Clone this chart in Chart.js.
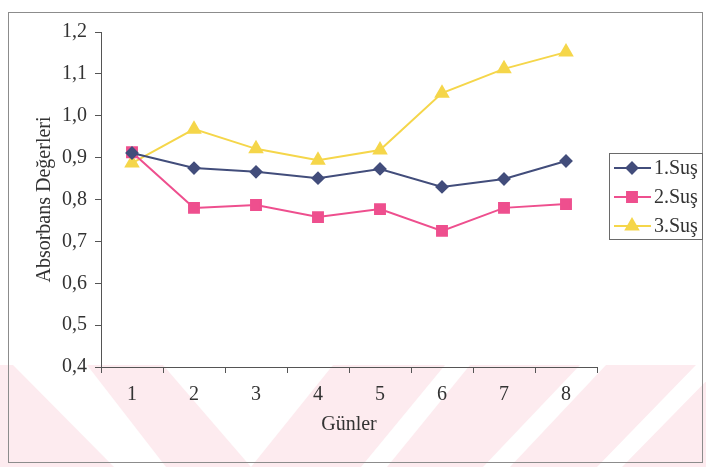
<!DOCTYPE html>
<html>
<head>
<meta charset="utf-8">
<script src="https://cdn.jsdelivr.net/npm/chart.js@4.4.1/dist/chart.umd.min.js"></script>
<style>
  html, body { margin: 0; padding: 0; background: #ffffff; }
  #wrap { width: 706px; height: 467px; position: relative; }
</style>
</head>
<body>
<div id="wrap"><canvas id="c" width="706" height="467"></canvas></div>
<script>
// Days on the x axis and absorbance readings for each strain
const days = ['1', '2', '3', '4', '5', '6', '7', '8'];
const sus1 = [0.911, 0.875, 0.866, 0.851, 0.873, 0.830, 0.849, 0.892];
const sus2 = [0.913, 0.780, 0.787, 0.758, 0.777, 0.725, 0.780, 0.789];
const sus3 = [0.887, 0.968, 0.921, 0.894, 0.918, 1.054, 1.112, 1.152];
const seriesNames = ['1.Suş', '2.Suş', '3.Suş'];
const yTicks = [0.4, 0.5, 0.6, 0.7, 0.8, 0.9, 1.0, 1.1, 1.2];

const SERIF = "'Liberation Serif', 'DejaVu Serif', serif";
const TEXT = '#333333';
const AXIS = '#555555';

// Page background: frame around the figure plus the pale striped band at the foot
const backdrop = {
  id: 'backdrop',
  beforeDraw(chart) {
    const ctx = chart.ctx;
    ctx.save();
    ctx.fillStyle = '#ffffff';
    ctx.fillRect(0, 0, chart.width, chart.height);
    // striped band
    ctx.fillStyle = '#fdebef';
    ctx.fillRect(0, 365, chart.width, chart.height - 365);
    ctx.fillStyle = '#ffffff';
    const gaps = [
      [[13, 365], [87, 365], [166, 467], [114, 467]],
      [[163, 365], [333, 365], [251, 467]],
      [[445, 365], [470, 365], [387, 467], [361, 467]],
      [[580, 365], [606, 365], [510, 467], [483, 467]],
      [[696, 365], [722, 365], [622, 467], [597, 467]]
    ];
    gaps.forEach(poly => {
      ctx.beginPath();
      poly.forEach(([x, y], i) => i ? ctx.lineTo(x, y) : ctx.moveTo(x, y));
      ctx.closePath();
      ctx.fill();
    });
    // outer frame
    ctx.strokeStyle = '#8c8c8c';
    ctx.lineWidth = 1;
    ctx.strokeRect(8.5, 12.5, 694, 450);
    ctx.restore();
  }
};

// Boxed legend at the right of the plot, built from the datasets
const boxedLegend = {
  id: 'boxedLegend',
  afterDraw(chart) {
    const ctx = chart.ctx;
    const left = 609, top = 153, w = 93, h = 86;
    ctx.save();
    ctx.fillStyle = '#ffffff';
    ctx.fillRect(left, top, w, h);
    ctx.strokeStyle = '#6a6a6a';
    ctx.lineWidth = 1;
    ctx.strokeRect(left + 0.5, top + 0.5, w, h);
    chart.data.datasets.forEach((ds, i) => {
      const y = 168 + i * 29;
      ctx.strokeStyle = ds.borderColor;
      ctx.lineWidth = 2;
      ctx.beginPath();
      ctx.moveTo(614, y);
      ctx.lineTo(651, y);
      ctx.stroke();
      ctx.fillStyle = ds.backgroundColor;
      Chart.helpers.drawPoint(ctx, {
        pointStyle: ds.pointStyle,
        radius: ds.pointRadius,
        rotation: 0,
        borderWidth: 1
      }, 632, y);
      ctx.fill();
      ctx.fillStyle = TEXT;
      ctx.font = '20px ' + SERIF;
      ctx.textAlign = 'left';
      ctx.textBaseline = 'middle';
      ctx.fillText(ds.label, 654, y + 1);
    });
    ctx.restore();
  }
};

const colors = ['#424d7b', '#ee4f8e', '#f5d64a'];
const styles = ['rectRot', 'rect', 'triangle'];
const radii = [5.5, 7, 7];
const values = [sus1, sus2, sus3];

new Chart(document.getElementById('c'), {
  type: 'line',
  data: {
    labels: days,
    datasets: values.map((v, i) => ({
      label: seriesNames[i],
      data: v,
      borderColor: colors[i],
      backgroundColor: colors[i],
      pointBackgroundColor: colors[i],
      pointBorderColor: colors[i],
      pointStyle: styles[i],
      pointRadius: radii[i],
      borderWidth: 2,
      tension: 0,
      fill: false
    }))
  },
  options: {
    responsive: false,
    devicePixelRatio: 1,
    animation: false,
    layout: { padding: { top: 32, right: 109, left: 0, bottom: 0 } },
    plugins: { legend: { display: false }, tooltip: { enabled: false } },
    scales: {
      x: {
        type: 'category',
        offset: true,
        grid: { display: true, offset: true, drawOnChartArea: false, drawTicks: true, tickLength: 6, color: AXIS },
        border: { display: true, color: AXIS, width: 1 },
        ticks: { color: TEXT, font: { family: SERIF, size: 20 }, padding: 10, maxRotation: 0 },
        title: { display: true, text: 'Günler', color: TEXT, font: { family: SERIF, size: 20 }, padding: { top: 0, bottom: 30 } },
        afterFit(scale) { scale.height = 100; }
      },
      y: {
        min: 0.4,
        max: 1.2,
        afterBuildTicks(scale) { scale.ticks = yTicks.map(v => ({ value: v })); },
        grid: { display: true, drawOnChartArea: false, drawTicks: true, tickLength: 6, color: AXIS },
        border: { display: true, color: AXIS, width: 1 },
        ticks: {
          color: TEXT,
          font: { family: SERIF, size: 20 },
          padding: 8,
          callback: v => Number(v).toFixed(1).replace('.', ',')
        },
        title: { display: true, text: 'Absorbans Değerleri', color: TEXT, font: { family: SERIF, size: 20 }, padding: { top: 33, bottom: 0 } },
        afterFit(scale) { scale.width = 101; }
      }
    }
  },
  plugins: [backdrop, boxedLegend]
});
</script>
</body>
</html>
